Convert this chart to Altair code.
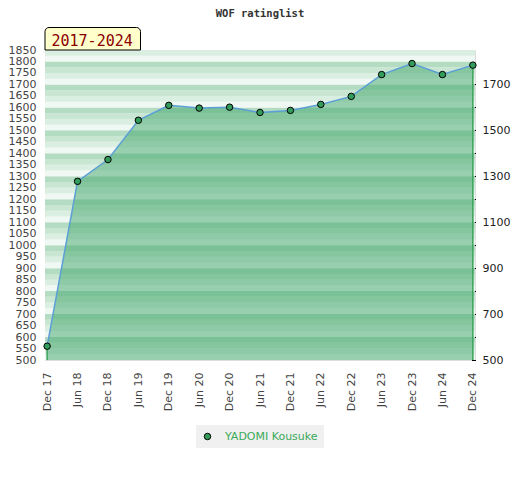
import altair as alt
import pandas as pd

# ---- data ----
labels = ["Dec 17", "Jun 18", "Dec 18", "Jun 19", "Dec 19", "Jun 20", "Dec 20",
          "Jun 21", "Dec 21", "Jun 22", "Dec 22", "Jun 23", "Dec 23", "Jun 24", "Dec 24"]
ratings = [560, 1278, 1373, 1544, 1609, 1597, 1601, 1578, 1587, 1613, 1648, 1743, 1791, 1743, 1784]
player = "YADOMI Kousuke"
period = "2017-2024"
title_text = "WOF ratinglist"
y_min, y_max = 500, 1850
left_ticks = list(range(500, 1851, 50))
right_ticks = list(range(500, 1701, 100))

idx = list(range(len(labels)))
df = pd.DataFrame({"i": idx, "label": labels, "rating": ratings, "player": player})
ends = df.iloc[[0, len(df) - 1]]

# background stripe styling (decoration)
band_colors = {75: "#b4dcc3", 50: "#c8e6d2", 25: "#dbeee2", 0: "#eff8f2"}
band_lo = list(range(y_min, y_max, 25))
bands = pd.DataFrame({"lo": band_lo,
                      "hi": [min(b + 25, y_max) for b in band_lo],
                      "c": [band_colors[b % 100] for b in band_lo]})

FONT = "DejaVu Sans"
label_lookup = "[" + ",".join("'%s'" % s for s in labels) + "][datum.value]"
yscale = alt.Scale(domain=[y_min, y_max], nice=False, zero=False)
xscale = alt.Scale(domain=[idx[0] - 0.07, idx[-1] + 0.07], nice=False, zero=False)
xenc = alt.X("i:Q", scale=xscale,
             axis=alt.Axis(title=None, values=idx, labelExpr=label_lookup,
                           labelAngle=-90, ticks=False, domain=False, grid=False,
                           labelPadding=12, labelFont=FONT, labelFontSize=11,
                           labelColor="#444444", labelOverlap=False))
left_axis = alt.Axis(title=None, values=left_ticks, ticks=False, domain=False, grid=False,
                     format="d", labelPadding=9, labelFont=FONT, labelFontSize=11,
                     labelColor="#444444", labelOverlap=False)
right_axis = alt.Axis(orient="right", title=None, values=right_ticks, format="d",
                      labelExpr="datum.value % 200 == 100 ? datum.label : ''",
                      ticks=True, tickSize=4, tickColor="#000000", domain=False, grid=False,
                      offset=-3.5, labelPadding=6.5, labelFont=FONT, labelFontSize=11,
                      labelColor="#222222")

bg = alt.Chart(bands).mark_rect().encode(
    x=alt.value(0), x2=alt.value("width"),
    y=alt.Y("lo:Q", scale=yscale, axis=left_axis), y2="hi:Q",
    fill=alt.Fill("c:N", scale=None),
)

area = alt.Chart(df).mark_area(color="#42a56b", opacity=0.5).encode(
    x=xenc, y=alt.Y("rating:Q", scale=yscale, axis=left_axis), y2=alt.datum(y_min),
)

edges = alt.Chart(ends).mark_rule(color="#3aa35a", strokeWidth=1.5).encode(
    x=xenc, y=alt.Y("rating:Q", scale=yscale, axis=left_axis), y2=alt.datum(y_min),
)

line = alt.Chart(df).mark_line(color="#5b9fd6", strokeWidth=1.5).encode(
    x=xenc, y=alt.Y("rating:Q", scale=yscale, axis=left_axis),
)

points = alt.Chart(df).mark_point(filled=True, size=42, stroke="black", strokeWidth=1,
                                  opacity=1).encode(
    x=xenc, y=alt.Y("rating:Q", scale=yscale, axis=left_axis),
    color=alt.Color("player:N", scale=alt.Scale(range=["#339c5a"]),
                    legend=alt.Legend(title=None, orient="none", legendX=151, legendY=375,
                                      fillColor="#f0f0f0", padding=6, labelOffset=12,
                                      labelFont=FONT, labelFontSize=11,
                                      labelColor="#3aaa5a", symbolType="circle",
                                      symbolSize=42, symbolStrokeColor="black",
                                      symbolStrokeWidth=1)),
)

tab_df = pd.DataFrame({"t": [period]})
tab_box = alt.Chart(tab_df).mark_rect(fill="#ffffcc", stroke="black", strokeWidth=1,
                                      cornerRadiusTopLeft=4, cornerRadiusTopRight=4).encode(
    x=alt.value(0), x2=alt.value(95.5), y=alt.value(-22.5), y2=alt.value(0),
)
tab_text = alt.Chart(tab_df).mark_text(font="DejaVu Sans Mono", fontSize=15, color="#8b0000",
                                       align="left", baseline="alphabetic").encode(
    x=alt.value(6.5), y=alt.value(-4.5), text="t:N",
)

title_df = pd.DataFrame({"t": [title_text]})
title = alt.Chart(title_df).mark_text(font="DejaVu Sans Mono", fontSize=10.5, fontWeight="bold",
                                      color="#333333", align="center",
                                      baseline="alphabetic").encode(
    x=alt.value(215), y=alt.value(-33.5), text="t:N",
)

main = alt.layer(bg, area, edges, line, points, tab_box, tab_text, title)

right = alt.Chart(df).mark_point(opacity=0).encode(
    x=xenc, y=alt.Y("rating:Q", scale=yscale, axis=right_axis),
)

chart = alt.layer(main, right).resolve_scale(y="independent").properties(
    width=430, height=310,
    padding={"left": 37, "top": 42, "right": 37, "bottom": 100},
    autosize=alt.AutoSizeParams(type="none"),
).configure_view(stroke="#d9d9d9", strokeWidth=2).configure(background="white")

chart.save("out.html", embed_options={"renderer": "svg", "actions": False})
